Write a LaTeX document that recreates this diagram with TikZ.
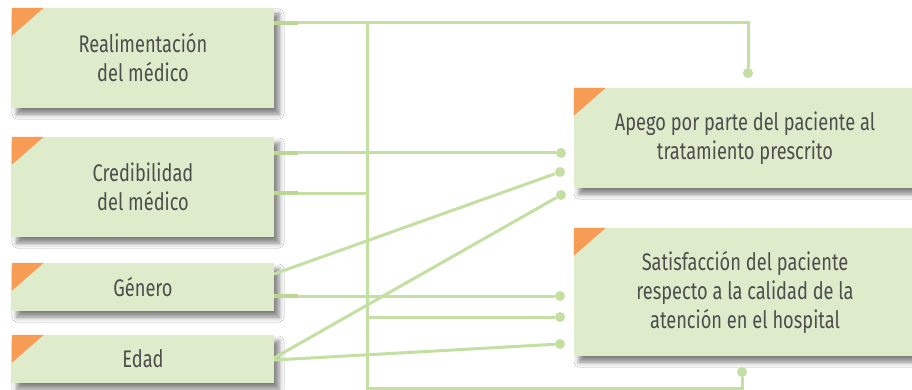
\documentclass[tikz,border=0pt]{standalone}
\usepackage{fontspec}
\setmainfont[FakeStretch=0.76]{Fira Sans}
\usetikzlibrary{shadows.blur}
\definecolor{boxfill}{HTML}{DFECCC}
\definecolor{tri}{HTML}{F79C55}
\definecolor{ln}{HTML}{C4DFA2}
\definecolor{stubc}{HTML}{BAD894}
\definecolor{txt}{HTML}{4D4D4D}
\tikzset{
  box/.style={fill=boxfill, inner sep=0pt, align=center, text=txt,
    font=\fontsize{24}{29}\selectfont,
    blur shadow={shadow xshift=5pt, shadow yshift=-6pt, shadow blur radius=5pt, shadow opacity=50}},
  conn/.style={draw=ln, line width=3pt},
  stub/.style={draw=stubc, line width=4pt},
  dot/.style={circle, fill=ln, minimum size=10pt, inner sep=0pt},
}
\begin{document}
\begin{tikzpicture}[x=1pt,y=-1pt]
\clip (0,0) rectangle (912,390);
\fill[white] (0,0) rectangle (912,390);
% boxes
\node[box, minimum width=262pt, minimum height=100pt] (b1) at (143,58) {Realimentación\\del médico};
\node[box, minimum width=262pt, minimum height=100pt] (b2) at (143,187) {Credibilidad\\del médico};
\node[box, minimum width=262pt, minimum height=48pt] (b3) at (143,287) {Género};
\node[box, minimum width=262pt, minimum height=48pt] (b4) at (143,359) {Edad};
\node[box, minimum width=342pt, minimum height=100pt] (r1) at (745,138) {Apego por parte del paciente al\\tratamiento prescrito};
\node[box, minimum width=342pt, minimum height=128pt] (r2) at (745,292) {Satisfacción del paciente\\respecto a la calidad de la\\atención en el hospital};
% orange corners
\foreach \n in {b1,b2,b3,b4,r1,r2}
  \fill[tri] (\n.north west) -- ++(32,0) -- ++(-32,28) -- cycle;
% dots
\node[dot] (d1) at (748,73) {};
\node[dot] (d2) at (561,153) {};
\node[dot] (d3) at (560,172) {};
\node[dot] (d4) at (561,195) {};
\node[dot] (d5) at (560,296) {};
\node[dot] (d6) at (560,317) {};
\node[dot] (d7) at (560,344) {};
\node[dot] (d8) at (742,372) {};
% anchor coordinates
\coordinate (a1) at (274,23);
\coordinate (a2) at (274,153);
\coordinate (a3) at (274,193);
\coordinate (a4) at (274,274);
\coordinate (a5) at (274,296);
\coordinate (a6) at (274,358);
\coordinate (a7) at (274,360);
\coordinate (bt) at (367,23);
\coordinate (bb) at (367,388);
\coordinate (bm) at (367,193);
\coordinate (bs) at (367,317);
% connectors
\draw[conn] (a1) -- (d1 |- a1) -- (d1);
\draw[conn] (bt) -- (bb) -- (d8 |- bb) -- (d8);
\draw[conn] (a2) -- (d2);
\draw[conn] (a3) -- (bm);
\draw[conn] (a4) -- (d3);
\draw[conn] (a6) -- (d4);
\draw[conn] (a5) -- (d5);
\draw[conn] (bs) -- (d6);
\draw[conn] (a7) -- (d7);
% stubs
\foreach \c in {a1,a2,a3,a5}
  \draw[stub] (\c) -- ++(24,0);
\end{tikzpicture}
\end{document}
